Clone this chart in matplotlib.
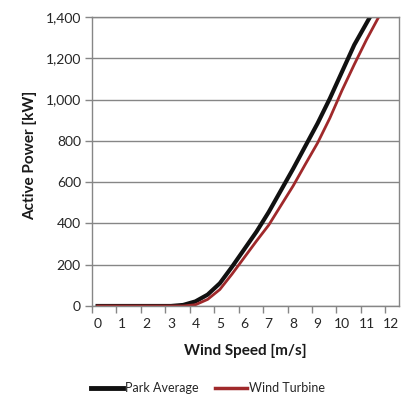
import matplotlib
matplotlib.use("Agg")
import matplotlib.pyplot as plt
from matplotlib.ticker import FuncFormatter

wind_park = [0, 1, 2, 3, 3.5, 4, 4.5, 5, 5.5, 6, 6.5, 7, 7.5, 8, 8.5, 9, 9.5, 10, 10.5, 11, 11.5]
park_average = [0, 0, 0, 0, 5, 22, 55, 110, 190, 275, 360, 455, 560, 665, 775, 885, 1005, 1135, 1265, 1370, 1475]

wind_turbine_x = [0, 1, 2, 3, 3.5, 4, 4.5, 5, 5.5, 6, 6.5, 7, 7.5, 8, 8.5, 9, 9.5, 10, 10.5, 11, 11.5, 12]
wind_turbine = [0, 0, 0, 0, 0, 6, 32, 80, 155, 235, 315, 392, 487, 582, 687, 790, 910, 1045, 1170, 1290, 1400, 1510]

x_ticks = list(range(0, 13))
y_ticks = [0, 200, 400, 600, 800, 1000, 1200, 1400]

plt.rcParams['font.family'] = ['Lato', 'DejaVu Sans']

fig = plt.figure(figsize=(4.14, 4.09), dpi=100)
ax = fig.add_axes([92/414, 1 - 306/409, (399-92)/414, (306-17)/409])

grey = '#868686'
ax.plot(wind_park, park_average, color='#111111', lw=3.0, label='Park Average')
ax.plot(wind_turbine_x, wind_turbine, color='#A0292B', lw=2.0, label='Wind Turbine')

ax.set_xlim(-0.22, 12.33)
ax.set_ylim(0, 1400)
ax.set_yticks(y_ticks)
ax.yaxis.set_major_formatter(FuncFormatter(lambda v, p: f"{int(v):,}"))
ax.set_xticks(x_ticks)
ax.set_xticklabels([str(v) for v in x_ticks])
ax.set_xticks([v - 0.23 for v in x_ticks], minor=True)
ax.tick_params(axis='x', which='major', length=0, pad=9, labelsize=10, colors='#262626')
ax.tick_params(axis='x', which='minor', length=5, color=grey, width=1)
ax.tick_params(axis='y', length=5, color=grey, width=1, labelsize=10, labelcolor='#262626', pad=3)

ax.grid(axis='y', color=grey, lw=1)
ax.set_axisbelow(True)
for s in ax.spines.values():
    s.set_color(grey)
    s.set_linewidth(1)

fig.text(245/414, 1 - 351/409, 'Wind Speed [m/s]', ha='center', va='center', fontsize=11, fontweight='bold', color='#1a1a1a')
fig.text(30/414, 1 - 155/409, 'Active Power [kW]', ha='center', va='center', rotation=90, fontsize=11, fontweight='bold', color='#1a1a1a')

leg = fig.legend(loc='center', bbox_to_anchor=(208/414, 1 - 388/409), ncol=2, frameon=False,
                 fontsize=9, handlelength=2.6, handletextpad=0.15, columnspacing=1.3)
for t in leg.get_texts():
    t.set_color('#262626')
leg.get_lines()[0].set_linewidth(3.5)
leg.get_lines()[1].set_linewidth(2.5)

fig.savefig('out.png', dpi=100)
